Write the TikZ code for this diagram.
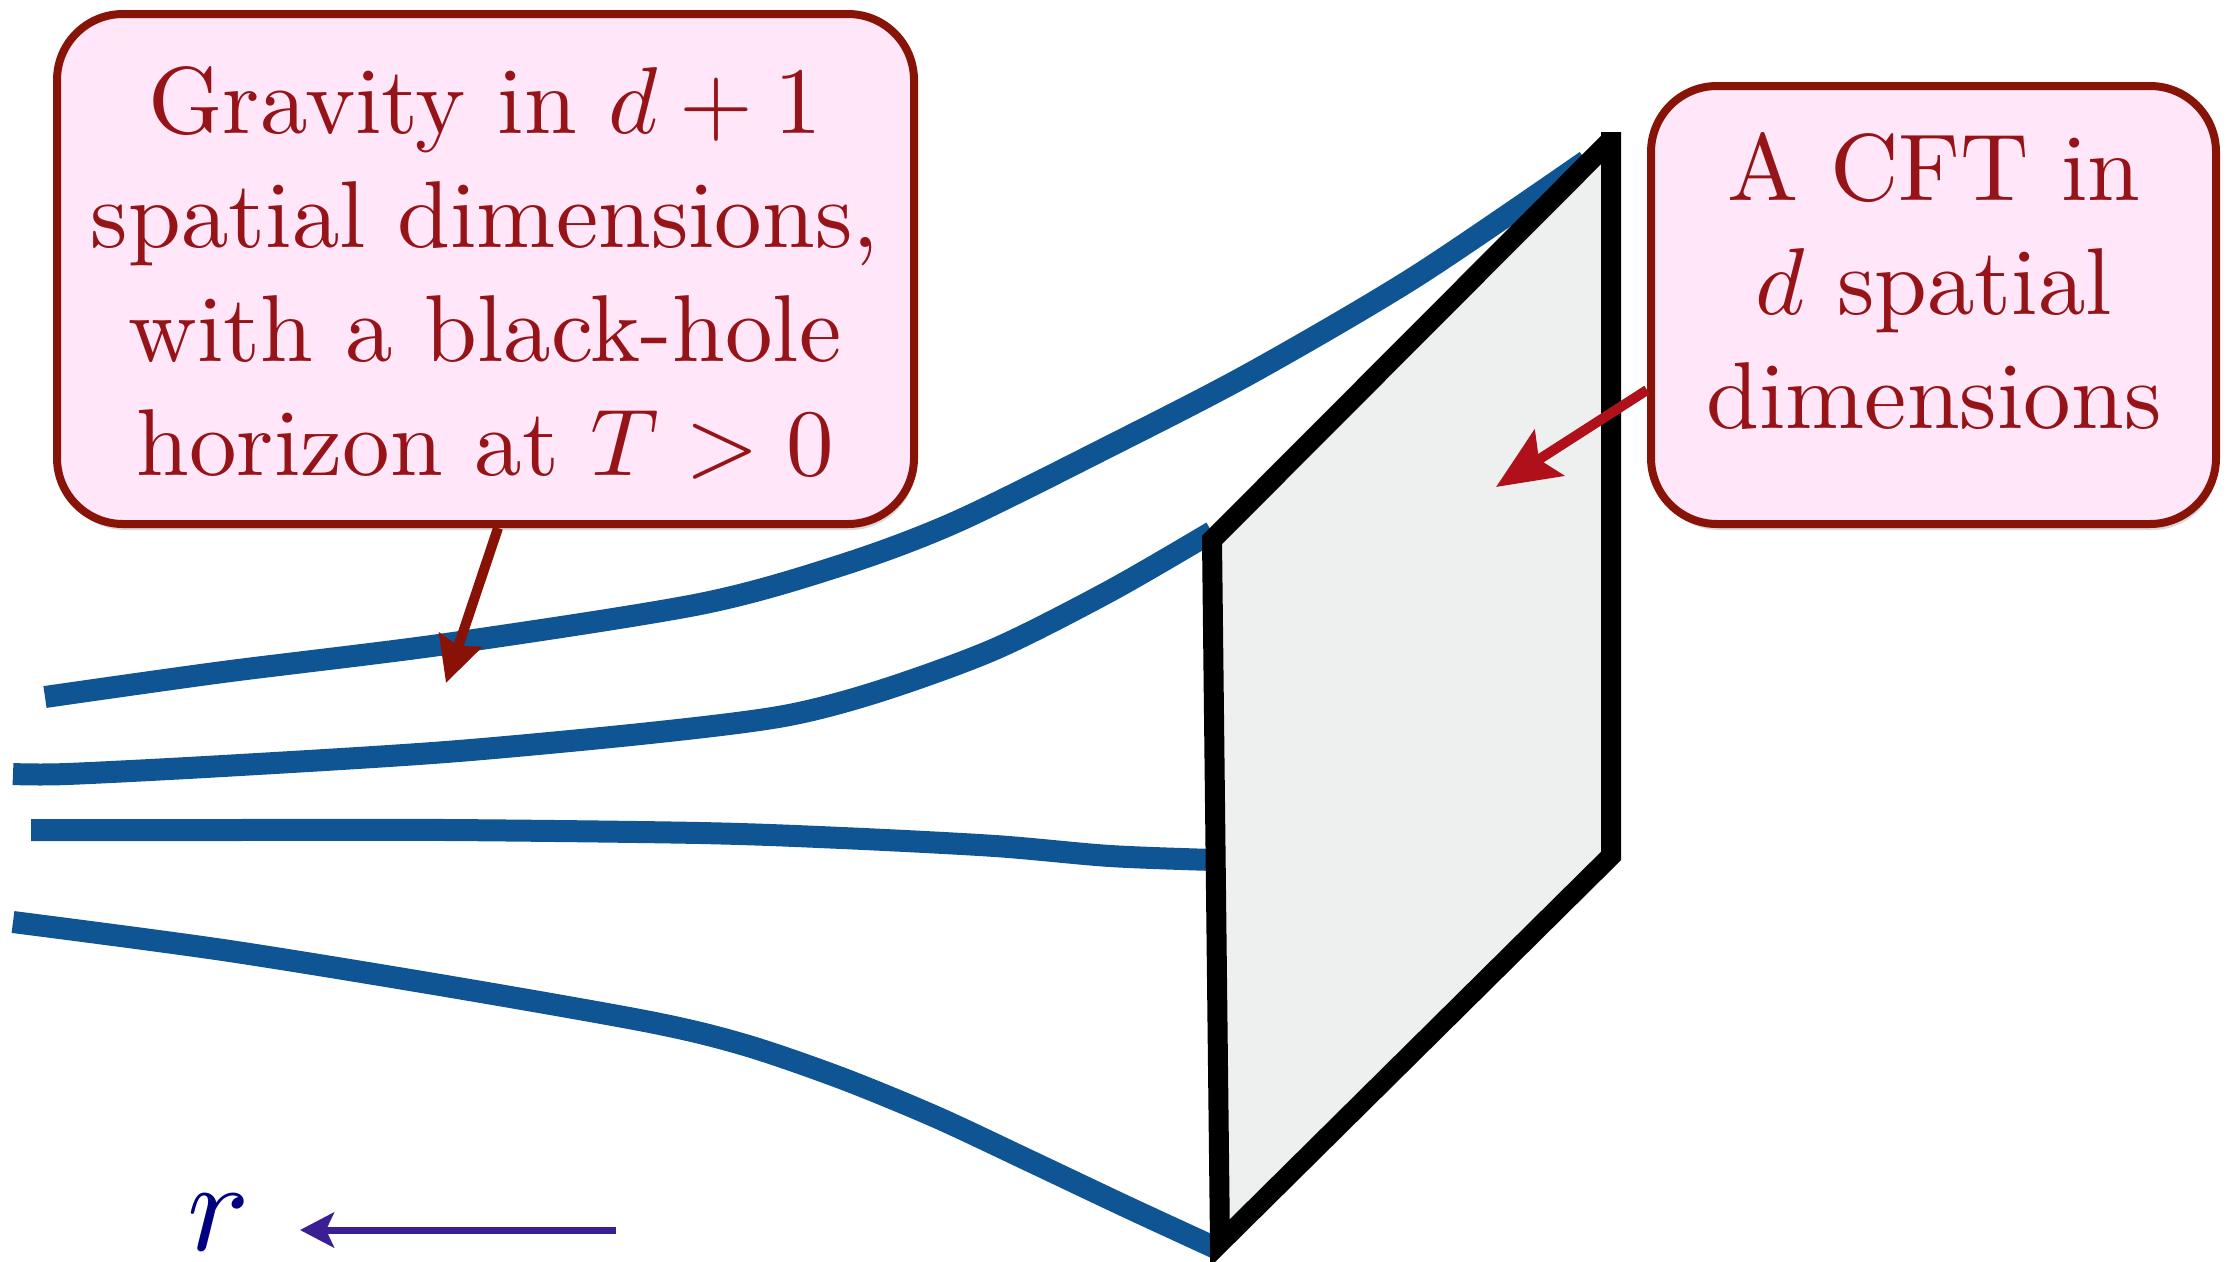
\RequirePackage{fix-cm}
\documentclass[tikz,border=0pt]{standalone}
\usepackage{fontspec}
\setmainfont{lmroman10-regular}[Extension=.otf]
\DeclareFontShape{OML}{cmm}{m}{it}{<->cmmi10}{}
\DeclareFontShape{OT1}{cmr}{m}{n}{<->cmr10}{}
\usetikzlibrary{arrows.meta,shadows,calc}
\definecolor{curveblue}{RGB}{15,85,147}
\definecolor{panelgray}{RGB}{238,240,239}
\definecolor{boxborder}{RGB}{136,20,8}
\definecolor{boxfill}{RGB}{255,230,248}
\definecolor{boxtext}{RGB}{150,20,24}
\definecolor{arrowdark}{RGB}{135,18,5}
\definecolor{arrowred}{RGB}{176,16,26}
\definecolor{raxis}{RGB}{58,30,148}
\definecolor{rlabel}{RGB}{0,0,128}
\begin{document}
\begin{tikzpicture}[x=1pt,y=-1pt,
  bulk/.style={curveblue, line width=22pt, line cap=butt},
  panel/.style={draw=black, line width=20pt, line join=miter, line cap=butt},
  callout/.style={draw=boxborder, line width=8pt, fill=boxfill, rounded corners=66pt, inner sep=0pt,
    drop shadow={shadow xshift=2pt, shadow yshift=-6pt, opacity=0.3}},
  calltext/.style={text=boxtext, font=\fontsize{95}{114}\selectfont, align=center, inner sep=0pt},
  pointer/.style={line width=10pt},
]
\useasboundingbox (0,0) rectangle (2235,1261);

% bulk curves
\draw[bulk] plot[smooth, tension=0.5] coordinates {(45,697) (223,672) (446,644) (700,604) (842,565) (956,522) (1110,446) (1251,373) (1415,277) (1586,161)};
\draw[bulk] plot[smooth, tension=0.5] coordinates {(13,774) (67,774) (223,766) (446,752) (650,733) (784,716) (880,691) (995,649) (1110,591) (1212,532)};
\draw[bulk] plot[smooth, tension=0.5] coordinates {(31,830) (223,830) (446,830) (700,833) (842,838) (995,846) (1110,856) (1214,860)};
\draw[bulk] plot[smooth, tension=0.5] coordinates {(13,922) (223,950) (446,986) (650,1022) (745,1045) (841,1078) (936,1117) (1032,1162) (1127,1207) (1218,1249)};

% boundary panel
\fill[panelgray] (1611,132) -- (1611,856) -- (1220,1243) -- (1212,540) -- (1611,140) -- cycle;
\draw[panel] (1611,132) -- (1611,856) -- (1220,1243) -- (1212,540) -- (1611,140);

% callouts
\node[callout, minimum width=857pt, minimum height=510pt] (gravbox) at (485.5,269) {};
\node[calltext] (gravtext) at (485,272.5) {Gravity in $d+1$\\spatial dimensions,\\with a black-hole\\horizon at $T>0$};
\node[callout, minimum width=565pt, minimum height=438pt] (cftbox) at (1933.5,305) {};
\node[calltext] (cfttext) at (1934,281) {A CFT in\\$d$ spatial\\dimensions};

% pointers
\coordinate (gravtip) at (446,683);
\coordinate (cfttip) at (1496,487);
\draw[pointer, arrowdark, -{Stealth[length=45pt,width=44pt,inset=6pt]}] ($(gravbox.south)+(12.5,0)$) -- (gravtip);
\draw[pointer, arrowred, -{Stealth[length=63pt,width=54pt,inset=12pt]}] ($(cftbox.west)+(0,85)$) -- (cfttip);

% r axis
\coordinate (rtail) at (616,1230);
\coordinate (rhead) at (300,1230);
\draw[raxis, line width=7pt, -{Stealth[length=34pt,width=35pt,inset=8pt]}] (rtail) -- (rhead);
\node[text=rlabel, font=\fontsize{130}{150}\selectfont, anchor=base, inner sep=0pt] (rlab) at (219,1250) {$r$};
\end{tikzpicture}
\end{document}
